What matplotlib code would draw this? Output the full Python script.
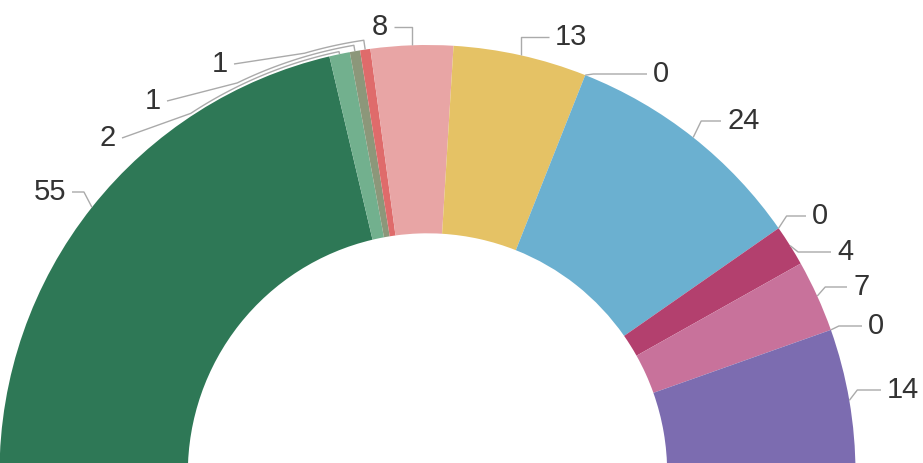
import numpy as np
import matplotlib
matplotlib.use("Agg")
import matplotlib.pyplot as plt

# ---- data ----
values = [55, 2, 1, 1, 8, 13, 0, 24, 0, 4, 7, 0, 14]
labels = [str(v) for v in values]
colors = ["#2e7856", "#72b08e", "#8c977a", "#df6b6b", "#e8a5a5", "#e5c265",
          "#e9a0a0", "#6bb0d0", "#b3406e", "#b3406e", "#c8729b", "#7c6cb0", "#7c6cb0"]

# ---- layout (pixels) ----
W, H = 923, 463
CX, CY, R = 427.5, 473.0, 428.0       # donut centre / outer radius in px
# label text anchor position (px), alignment, leader style
label_layout = [
    (66, 192, "right", "side"),
    (116, 138, "right", "hug1"),
    (161, 101, "right", "hug2"),
    (228, 64, "right", "hug3"),
    (388, 27, "right", "top"),
    (555, 37, "left", "top"),
    (653, 74, "left", "side"),
    (727, 121, "left", "side"),
    (812, 216, "left", "side"),
    (837, 252, "left", "side"),
    (853, 287, "left", "side"),
    (868, 326, "left", "side"),
    (887, 390, "left", "side"),
]

def px2d(x, y):
    return (x - CX) / R, (CY - y) / R

plt.rcParams["font.family"] = ["Liberation Sans", "DejaVu Sans"]
fig = plt.figure(figsize=(W / 100, H / 100), dpi=100)
ax = fig.add_axes([0, 0, 1, 1])
ax.set_axis_off()

total = sum(values)
wedges, _ = ax.pie(values + [total], colors=colors + ["none"], startangle=180,
                   counterclock=False, radius=1.0,
                   wedgeprops=dict(width=0.44, edgecolor="none", linewidth=0))
wedges[-1].set_visible(False)

x0, y1 = px2d(0, 0)
x1, y0 = px2d(W, H)
ax.set_xlim(x0, x1)
ax.set_ylim(y0, y1)
ax.set_aspect("auto")

line_kw = dict(color="#aaaaaa", lw=1.0, solid_capstyle="butt")
hug_r = {"hug1": 1.006, "hug2": 1.014, "hug3": 1.022}
for w, lab, (tx, ty, ha, style) in zip(wedges[:-1], labels, label_layout):
    mid = np.deg2rad((w.theta1 + w.theta2) / 2)
    ax_, ay_ = np.cos(mid), np.sin(mid)
    tdx, tdy = px2d(tx, ty)
    d = 1 if ha == "left" else -1
    gap = 6 / R
    end = (tdx - d * gap, tdy)
    if style == "top":
        pts = [(ax_, ay_), (ax_, tdy), end]
    elif style == "side":
        pts = [(ax_, ay_), (ax_ + d * 8 / R, tdy), end]
    else:
        rr = hug_r[style]
        phi0 = np.arctan2(end[1], end[0]) - np.deg2rad(9)
        arc = np.linspace(phi0, mid, 40)
        pts = [end] + [(rr * np.cos(a), rr * np.sin(a)) for a in arc] + [(ax_, ay_)]
    xs, ys = zip(*pts)
    ax.plot(xs, ys, **line_kw)
    ax.text(tdx, tdy, lab, ha=ha, va="center", fontsize=21, color="#333333")

fig.savefig("out.png", dpi=100)
